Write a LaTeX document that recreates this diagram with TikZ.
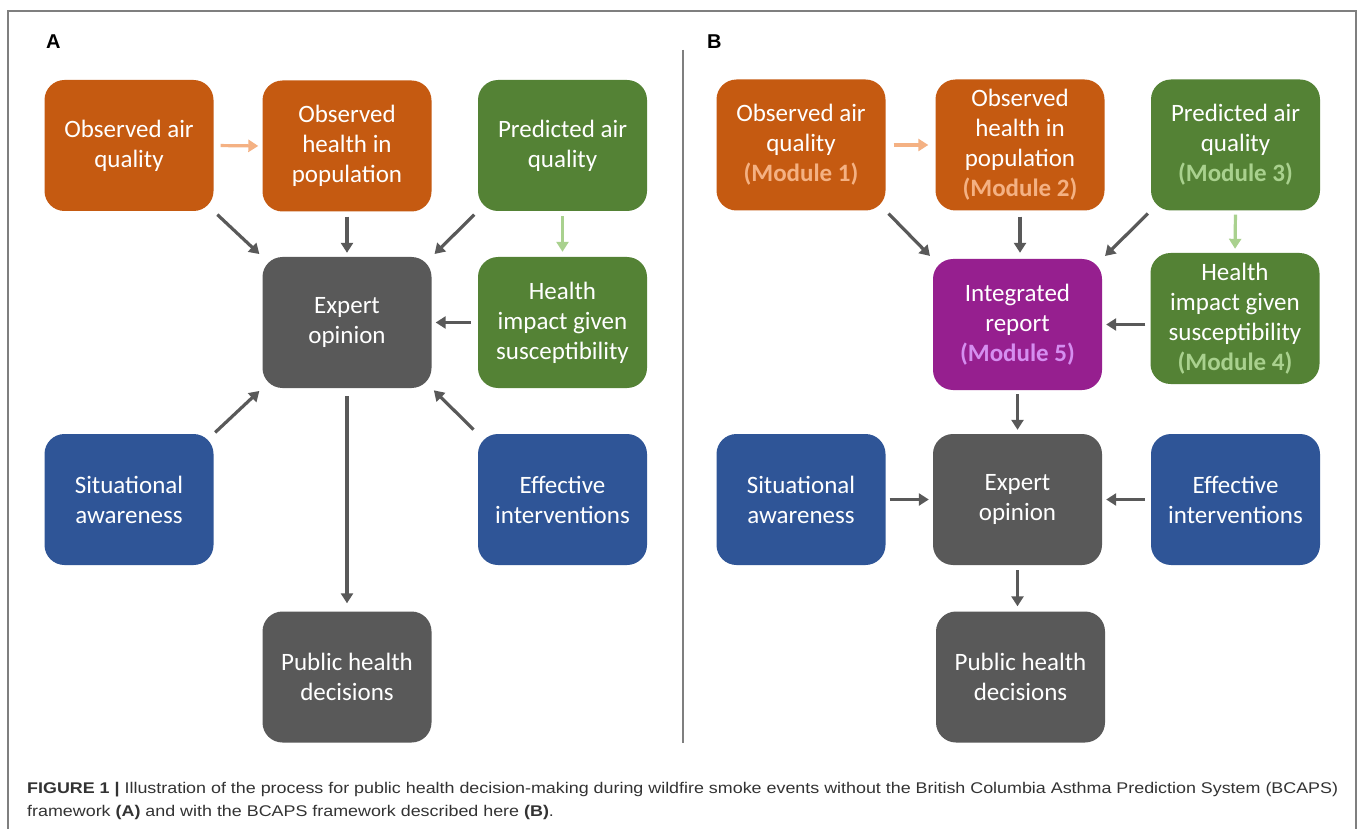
\documentclass[tikz,border=0pt]{standalone}
\usepackage{fontspec}
\setmainfont{Carlito}
\newfontfamily\capfont{Liberation Sans}
\usetikzlibrary{arrows.meta,calc}
\definecolor{cOr}{HTML}{C55A11}
\definecolor{cGn}{HTML}{548235}
\definecolor{cGy}{HTML}{595959}
\definecolor{cBl}{HTML}{2F5597}
\definecolor{cPu}{HTML}{961F8F}
\definecolor{ltOr}{HTML}{F4B183}
\definecolor{ltGn}{HTML}{A9D18E}
\definecolor{ltPu}{HTML}{D58EF0}
\definecolor{frameC}{HTML}{7F7F7F}
\definecolor{capC}{HTML}{333333}
\newlength\capw
\newcommand\capLineOne{\textbf{FIGURE 1 |} Illustration of the process for public health decision-making during wildfire smoke events without the British Columbia Asthma Prediction System (BCAPS)}
\newcommand\capLineTwo{framework \textbf{(A)} and with the BCAPS framework described here \textbf{(B)}.}
\begin{document}
\settowidth\capw{\capfont\fontsize{15.5}{18}\selectfont\capLineOne}%
\pgfmathsetmacro\capscale{1311/\capw}%
\begin{tikzpicture}[x=1pt,y=-1pt,
  box/.style={rounded corners=20pt, minimum width=169pt, minimum height=131pt,
    align=center, text=white, inner sep=0pt,
    font=\fontsize{25}{30}\selectfont},
  arr/.style={-{Triangle[length=10pt,width=12pt]}, line width=3.2pt, draw=cGy},
  arrOr/.style={arr, draw=ltOr},
  arrGn/.style={arr, draw=ltGn},
  lbl/.style={font=\capfont\bfseries\fontsize{20}{24}\selectfont, anchor=base west, inner sep=0pt},
  captxt/.style={anchor=base west, inner sep=0pt, text=capC, font=\capfont\fontsize{15.5}{18}\selectfont}
]
\useasboundingbox (0,0) rectangle (1358,829);
\fill[white] (0,0) rectangle (1358,829);
% frame
\draw[frameC, line width=1.5pt] (8,829) -- (8,11) -- (1356,11) -- (1356,829);
\coordinate (divT) at (683,50);
\coordinate (divB) at (683,743);
\draw[frameC, line width=1.5pt] (divT) -- (divB);
% labels
\node[lbl] (labA) at (46,49) {A};
\node[lbl] (labB) at (707,49) {B};
% Panel A
\node[box, fill=cOr] (oaA) at (129,145.5) {Observed air\\quality};
\node[box, fill=cOr] (ohA) at (347,146) {Observed\\health in\\population};
\node[box, fill=cGn] (paA) at (562.5,145.5) {Predicted air\\quality};
\node[box, fill=cGy] (exA) at (347,322.5) {Expert\\opinion};
\node[box, fill=cGn] (hiA) at (562.5,322.5) {Health\\impact given\\susceptibility};
\node[box, fill=cBl] (saA) at (129,499.5) {Situational\\awareness};
\node[box, fill=cBl] (eiA) at (562.5,499.5) {Effective\\interventions};
\node[box, fill=cGy] (phA) at (347,677) {Public health\\decisions};
% arrows A
\draw[arrOr, shorten <=7pt, shorten >=4pt] (oaA.east) -- (ohA.west);
\draw[arrGn, shorten <=5pt, shorten >=5pt] (paA.south) -- (hiA.north);
\draw[arr, shorten <=5pt, shorten >=4pt] (oaA.south east) -- (exA.north west);
\draw[arr, shorten <=5pt, shorten >=4pt] (ohA.south) -- (exA.north);
\draw[arr, shorten <=5pt, shorten >=4pt] (paA.south west) -- (exA.north east);
\draw[arr, shorten <=7pt, shorten >=4pt] (hiA.west) -- (exA.east);
\draw[arr, shorten <=2pt, shorten >=4pt] (saA.north east) -- (exA.south west);
\draw[arr, shorten <=6pt, shorten >=3pt] (eiA.north west) -- (exA.south east);
\draw[arr, shorten <=8pt, shorten >=8pt] (exA.south) -- (phA.north);
% Panel B
\node[box, fill=cOr] (oaB) at (801,145) {Observed air\\quality\\{\bfseries\color{ltOr}(Module 1)}};
\node[box, fill=cOr] (ohB) at (1020,145) {Observed\\health in\\population\\{\bfseries\color{ltOr}(Module 2)}};
\node[box, fill=cGn] (paB) at (1235.5,145) {Predicted air\\quality\\{\bfseries\color{ltGn}(Module 3)}};
\node[box, fill=cPu] (irB) at (1017.5,324.5) {Integrated\\report\\{\bfseries\color{ltPu}(Module 5)}};
\node[box, fill=cGn] (hiB) at (1235,318.5) {Health\\impact given\\susceptibility\\{\bfseries\color{ltGn}(Module 4)}};
\node[box, fill=cBl] (saB) at (801,499.5) {Situational\\awareness};
\node[box, fill=cGy] (exB) at (1017.5,499.5) {Expert\\opinion};
\node[box, fill=cBl] (eiB) at (1235.5,499.5) {Effective\\interventions};
\node[box, fill=cGy] (phB) at (1020.5,677) {Public health\\decisions};
% arrows B
\draw[arrOr, shorten <=8pt, shorten >=7pt] (oaB.east) -- (ohB.west);
\draw[arrGn, shorten <=4pt, shorten >=4pt] (paB.south) -- (hiB.north);
\draw[arr, shorten <=4pt, shorten >=4pt] (oaB.south east) -- (irB.north west);
\draw[arr, shorten <=6pt, shorten >=6pt] (ohB.south) -- (ohB.south |- irB.north);
\draw[arr, shorten <=4pt, shorten >=4pt] (paB.south west) -- (irB.north east);
\draw[arr, shorten <=5pt, shorten >=4pt] (hiB.west |- irB.east) -- (irB.east);
\draw[arr, shorten <=4pt, shorten >=4pt] (irB.south) -- (exB.north);
\draw[arr, shorten <=4pt, shorten >=4pt] (saB.east) -- (exB.west);
\draw[arr, shorten <=6pt, shorten >=4pt] (eiB.west) -- (exB.east);
\draw[arr, shorten <=5pt, shorten >=5pt] (exB.south) -- (exB.south |- phB.north);
% caption
\node[captxt] (cap1) at (27,793) {\scalebox{\capscale}[1]{\capLineOne}};
\node[captxt] (cap2) at (27,816) {\scalebox{\capscale}[1]{\capLineTwo}};
\end{tikzpicture}
\end{document}
